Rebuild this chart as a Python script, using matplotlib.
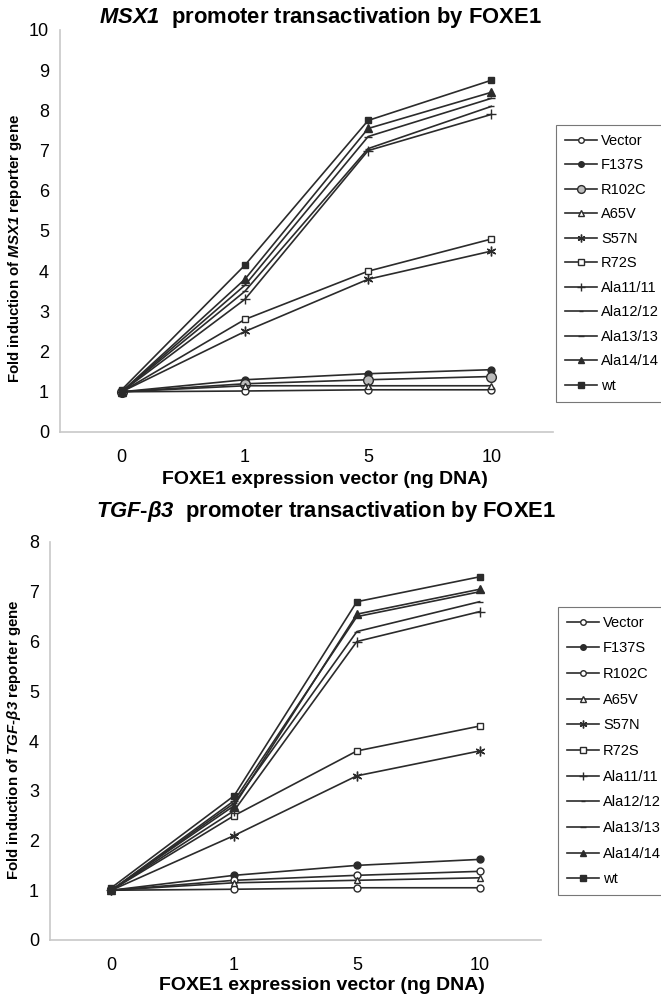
import matplotlib
matplotlib.use("Agg")
import matplotlib.pyplot as plt

plt.rcParams['font.family'] = ['Liberation Sans', 'DejaVu Sans']
plt.rcParams['mathtext.fontset'] = 'custom'
plt.rcParams['mathtext.it'] = 'Liberation Sans:italic:bold'
plt.rcParams['mathtext.rm'] = 'Liberation Sans:italic:bold'
plt.rcParams['mathtext.bf'] = 'Liberation Sans:italic:bold'

doses = ['0', '1', '5', '10']
constructs = ['Vector', 'F137S', 'R102C', 'A65V', 'S57N', 'R72S',
              'Ala11/11', 'Ala12/12', 'Ala13/13', 'Ala14/14', 'wt']

# MSX1 promoter, fold induction at 0, 1, 5, 10 ng
msx1_vector = [1.0, 1.02, 1.05, 1.05]
msx1_f137s = [1.0, 1.3, 1.45, 1.55]
msx1_r102c = [1.0, 1.2, 1.3, 1.38]
msx1_a65v = [1.0, 1.15, 1.15, 1.15]
msx1_s57n = [1.0, 2.5, 3.8, 4.5]
msx1_r72s = [1.0, 2.8, 4.0, 4.8]
msx1_ala11 = [1.0, 3.3, 7.0, 7.9]
msx1_ala12 = [1.0, 3.5, 7.05, 8.1]
msx1_ala13 = [1.0, 3.65, 7.35, 8.3]
msx1_ala14 = [1.0, 3.8, 7.55, 8.45]
msx1_wt = [1.05, 4.15, 7.75, 8.75]

# TGF-beta3 promoter
tgf_vector = [1.0, 1.02, 1.05, 1.05]
tgf_f137s = [1.0, 1.3, 1.5, 1.62]
tgf_r102c = [1.0, 1.2, 1.3, 1.38]
tgf_a65v = [1.0, 1.15, 1.2, 1.25]
tgf_s57n = [1.0, 2.1, 3.3, 3.8]
tgf_r72s = [1.0, 2.5, 3.8, 4.3]
tgf_ala11 = [1.0, 2.6, 6.0, 6.6]
tgf_ala12 = [1.0, 2.75, 6.2, 6.8]
tgf_ala13 = [1.0, 2.8, 6.5, 7.0]
tgf_ala14 = [1.0, 2.7, 6.55, 7.05]
tgf_wt = [1.05, 2.9, 6.8, 7.3]

msx1 = [msx1_vector, msx1_f137s, msx1_r102c, msx1_a65v, msx1_s57n, msx1_r72s,
        msx1_ala11, msx1_ala12, msx1_ala13, msx1_ala14, msx1_wt]
tgf = [tgf_vector, tgf_f137s, tgf_r102c, tgf_a65v, tgf_s57n, tgf_r72s,
       tgf_ala11, tgf_ala12, tgf_ala13, tgf_ala14, tgf_wt]

line_c = '#2b2b2b'
# marker, facecolor, size
styles_top = [('o', 'white', 5), ('o', line_c, 5), ('o', '#bbbbbb', 7), ('^', 'white', 5),
              ((6, 2, 0), line_c, 7), ('s', 'white', 5), ('+', line_c, 7), ('_', line_c, 4),
              ('_', line_c, 6), ('^', line_c, 6), ('s', line_c, 5)]
styles_bot = list(styles_top)
styles_bot[2] = ('o', 'white', 5)

W, H = 661, 998


def px(x, y):
    # pixel position (from top-left) -> figure fraction
    return x / W, 1 - y / H


def draw(ax, data, styles, ymax, legend_anchor, spacing):
    x = list(range(len(doses)))
    for name, vals, (m, fc, ms) in zip(constructs, data, styles):
        ax.plot(x, vals, color=line_c, lw=1.2, marker=m, markersize=ms,
                markerfacecolor=fc, markeredgecolor=line_c, markeredgewidth=1.0,
                label=name)
    ax.set_xlim(-0.5, 3.5)
    ax.set_ylim(0, ymax)
    ax.set_yticks(range(0, ymax + 1))
    ax.set_xticks(x)
    ax.set_xticklabels(doses)
    ax.tick_params(length=0, labelsize=13, pad=8)
    ax.tick_params(axis='x', pad=12)
    for s in ['top', 'right']:
        ax.spines[s].set_visible(False)
    for s in ['left', 'bottom']:
        ax.spines[s].set_color('#c8c8c8')
        ax.spines[s].set_linewidth(1.2)
    leg = ax.legend(loc='upper left', bbox_to_anchor=legend_anchor,
                    bbox_transform=fig.transFigure, borderaxespad=0,
                    fontsize=10.5, frameon=True, fancybox=False, edgecolor='#555555',
                    handlelength=2.2, handletextpad=0.3, borderpad=0.6,
                    labelspacing=spacing, markerscale=0.8)
    leg.get_frame().set_linewidth(0.8)
    return leg


fig = plt.figure(figsize=(W / 100, H / 100), dpi=100)
ax1 = fig.add_axes([60 / W, 1 - 432 / H, (553 - 60) / W, (432 - 30) / H])
ax2 = fig.add_axes([50 / W, 1 - 940 / H, (541 - 50) / W, (940 - 542) / H])

draw(ax1, msx1, styles_top, 10, px(556, 125), 0.72)
draw(ax2, tgf, styles_bot, 8, px(558, 607), 0.8)

# titles
fig.text(*px(320, 17), r'$MSX1$  promoter transactivation by FOXE1',
         fontsize=15.8, fontweight='bold', ha='center', va='center')
fig.text(*px(326, 512), r'$TGF$-$β3$  promoter transactivation by FOXE1',
         fontsize=15.8, fontweight='bold', ha='center', va='center')

# axis labels
fig.text(*px(325, 480), 'FOXE1 expression vector (ng DNA)', fontsize=14,
         fontweight='bold', ha='center', va='center')
fig.text(*px(322, 985), 'FOXE1 expression vector (ng DNA)', fontsize=14,
         fontweight='bold', ha='center', va='center')
fig.text(*px(15, 248), r'Fold induction of $MSX1$ reporter gene', fontsize=10.8,
         fontweight='bold', ha='center', va='center', rotation=90)
fig.text(*px(14, 740), r'Fold induction of $TGF$-$β3$ reporter gene',
         fontsize=10.8, fontweight='bold', ha='center', va='center', rotation=90)

fig.savefig('out.png', dpi=100)
